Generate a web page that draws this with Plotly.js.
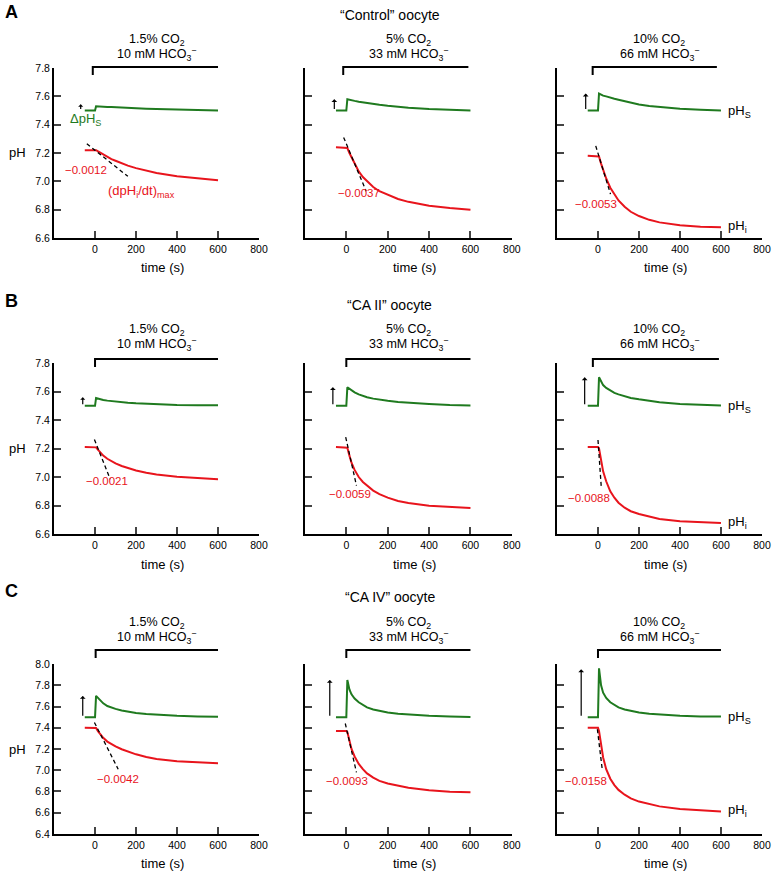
<!DOCTYPE html>
<html>
<head>
<meta charset="utf-8">
<script src="https://cdn.plot.ly/plotly-3.0.1.min.js"></script>
<style>
  html, body { margin: 0; padding: 0; background: #fff; }
  #chart { width: 772px; height: 872px; }
</style>
</head>
<body>
<div id="chart"></div>
<script>
// Sample times (s) shared by every trace
const timeGrid = [-50, 0, 5, 15, 25, 40, 60, 80, 100, 130, 160, 200, 250, 300, 400, 500, 600];

// Row / column labels
const panelLetters = ['A', 'B', 'C'];
const rowTitles = ['\u201CControl\u201D oocyte', '\u201CCA II\u201D oocyte', '\u201CCA IV\u201D oocyte'];
const co2Labels = ['1.5% CO<sub>2</sub>', '5% CO<sub>2</sub>', '10% CO<sub>2</sub>'];
const hco3Labels = ['10 mM HCO<sub>3</sub><sup>\u2212</sup>', '33 mM HCO<sub>3</sub><sup>\u2212</sup>', '66 mM HCO<sub>3</sub><sup>\u2212</sup>'];

// Surface pH (green), one array per CO2 level
const controlPHs = [
    [7.5, 7.5, 7.53, 7.53, 7.528, 7.527, 7.525, 7.524, 7.522, 7.52, 7.518, 7.515, 7.512, 7.51, 7.505, 7.502, 7.5],
    [7.5, 7.5, 7.58, 7.578, 7.573, 7.568, 7.562, 7.557, 7.553, 7.546, 7.54, 7.533, 7.525, 7.519, 7.51, 7.504, 7.5],
    [7.5, 7.5, 7.62, 7.612, 7.605, 7.6, 7.59, 7.583, 7.576, 7.565, 7.555, 7.543, 7.532, 7.524, 7.512, 7.505, 7.5]
];
const ca2PHs = [
    [7.5, 7.5, 7.555, 7.55, 7.546, 7.541, 7.536, 7.532, 7.529, 7.525, 7.521, 7.517, 7.513, 7.51, 7.506, 7.504, 7.503],
    [7.5, 7.5, 7.63, 7.62, 7.607, 7.594, 7.58, 7.568, 7.56, 7.55, 7.542, 7.535, 7.526, 7.52, 7.512, 7.505, 7.502],
    [7.5, 7.5, 7.7, 7.67, 7.645, 7.625, 7.605, 7.59, 7.58, 7.565, 7.555, 7.545, 7.533, 7.525, 7.513, 7.505, 7.502]
];
const ca4PHs = [
    [7.5, 7.5, 7.7, 7.68, 7.655, 7.63, 7.605, 7.59, 7.578, 7.563, 7.552, 7.54, 7.53, 7.522, 7.512, 7.506, 7.503],
    [7.5, 7.5, 7.85, 7.76, 7.715, 7.675, 7.64, 7.612, 7.592, 7.572, 7.558, 7.543, 7.531, 7.523, 7.512, 7.505, 7.502],
    [7.5, 7.5, 7.96, 7.8, 7.73, 7.68, 7.64, 7.612, 7.592, 7.572, 7.558, 7.543, 7.531, 7.523, 7.513, 7.507, 7.505]
];

// Intracellular pH (red)
const controlPHi = [
    [7.22, 7.22, 7.22, 7.211, 7.202, 7.187, 7.171, 7.157, 7.145, 7.127, 7.111, 7.093, 7.074, 7.059, 7.035, 7.019, 7.008],
    [7.24, 7.24, 7.235, 7.2, 7.17, 7.12, 7.07, 7.03, 7.0, 6.96, 6.93, 6.905, 6.875, 6.855, 6.828, 6.812, 6.8],
    [7.18, 7.18, 7.175, 7.125, 7.08, 7.02, 6.955, 6.905, 6.865, 6.82, 6.785, 6.755, 6.728, 6.71, 6.69, 6.68, 6.675]
];
const ca2PHi = [
    [7.21, 7.21, 7.208, 7.19, 7.172, 7.15, 7.128, 7.11, 7.095, 7.077, 7.062, 7.046, 7.03, 7.018, 7.002, 6.992, 6.985],
    [7.21, 7.21, 7.205, 7.15, 7.1, 7.05, 7.0, 6.965, 6.94, 6.905, 6.88, 6.855, 6.832, 6.817, 6.798, 6.788, 6.782],
    [7.21, 7.21, 7.2, 7.11, 7.04, 6.97, 6.9, 6.855, 6.82, 6.785, 6.76, 6.74, 6.72, 6.705, 6.69, 6.682, 6.678]
];
const ca4PHi = [
    [7.4, 7.4, 7.398, 7.365, 7.34, 7.305, 7.27, 7.245, 7.225, 7.198, 7.175, 7.15, 7.125, 7.105, 7.085, 7.072, 7.065],
    [7.37, 7.37, 7.36, 7.27, 7.2, 7.13, 7.06, 7.01, 6.97, 6.93, 6.9, 6.875, 6.852, 6.835, 6.812, 6.798, 6.792],
    [7.4, 7.4, 7.37, 7.22, 7.12, 7.01, 6.92, 6.86, 6.815, 6.77, 6.735, 6.705, 6.68, 6.66, 6.635, 6.62, 6.612]
];

// Max rate of pHi change, tangent line end points
const rateLabels = [
    ['\u22120.0012', '\u22120.0037', '\u22120.0053'],
    ['\u22120.0021', '\u22120.0059', '\u22120.0088'],
    ['\u22120.0042', '\u22120.0093', '\u22120.0158']
];
const rateX = [[-44, 59, -11], [56, 19, -42], [110, 3, -57]];
const rateY = [[7.08, 6.92, 6.84], [6.97, 6.88, 6.85], [6.915, 6.9, 6.9]];
const tangentX = [
    [[-40, 160], [-13, 96], [-11, 61]],
    [[-3, 74], [-3, 49], [0, 16]],
    [[-3, 113], [-5, 49], [-3, 20]]
];
const tangentY = [
    [[7.265, 7.035], [7.31, 6.93], [7.25, 6.91]],
    [[7.263, 6.985], [7.28, 6.94], [7.26, 6.93]],
    [[7.45, 7.01], [7.44, 6.98], [7.386, 7.02]]
];

// delta pHs arrows: x position and tip level; CO2 bracket start/end
const arrowX = [[-70, -58, -60], [-60, -65, -65], [-60, -80, -82]];
const arrowTop = [[7.545, 7.58, 7.62], [7.56, 7.63, 7.7], [7.7, 7.85, 7.95]];
const bracketStart = [[-11, -15, -26], [0, 0, -25], [3, 0, 0]];
const bracketEnd = [[600, 590, 580], [600, 600, 590], [600, 600, 600]];

const yRanges = [[6.6, 7.8], [6.6, 7.8], [6.4, 8.0]];
const yTicks = [
    [6.6, 6.8, 7.0, 7.2, 7.4, 7.6, 7.8],
    [6.6, 6.8, 7.0, 7.2, 7.4, 7.6, 7.8],
    [6.4, 6.6, 6.8, 7.0, 7.2, 7.4, 7.6, 7.8, 8.0]
];
const xTicks = [0, 200, 400, 600, 800];

const pHsRows = [controlPHs, ca2PHs, ca4PHs];
const pHiRows = [controlPHi, ca2PHi, ca4PHi];

// Geometry
const W = 772, H = 872;
const xDomains = [[0.070, 0.3355], [0.395, 0.663], [0.7215, 0.987]];
const yDomains = [[0.7271, 0.922], [0.3876, 0.5837], [0.0436, 0.2385]];
const bracketLift = [1, 4, 14];       // px above plot top
const co2Lift = [28, 33, 41];
const hco3Lift = [14, 19, 27];
const letterY = [12, 301, 591];

const FONT = 'Liberation Sans, Arial, Helvetica, sans-serif';
const GREEN = '#1f7a1f';
const RED = '#e8141c';

const traces = [];
const annotations = [];
const shapes = [];
const layout = {
    width: W,
    height: H,
    margin: { l: 0, r: 0, t: 0, b: 0 },
    paper_bgcolor: '#fff',
    plot_bgcolor: '#fff',
    showlegend: false,
    font: { family: FONT, color: '#000', size: 10 },
    annotations: annotations,
    shapes: shapes
};

for (let r = 0; r < 3; r++) {
    const hPx = (yDomains[r][1] - yDomains[r][0]) * H;

    // panel letter + row title (centred on the figure)
    annotations.push({
        xref: 'paper', yref: 'paper', x: 0.004, y: 1 - letterY[r] / H,
        xanchor: 'left', yanchor: 'middle', showarrow: false,
        text: '<b>' + panelLetters[r] + '</b>', font: { size: 18, family: FONT }
    });
    annotations.push({
        xref: 'paper', yref: 'paper', x: 0.505, y: 1 - (letterY[r] + [3, 4, 6][r]) / H,
        xanchor: 'center', yanchor: 'middle', showarrow: false,
        text: rowTitles[r], font: { size: 14, family: FONT }
    });

    for (let c = 0; c < 3; c++) {
        const k = r * 3 + c + 1;
        const xName = k === 1 ? 'x' : 'x' + k;
        const yName = k === 1 ? 'y' : 'y' + k;
        const yDom = yName + ' domain';

        layout[k === 1 ? 'xaxis' : 'xaxis' + k] = {
            domain: xDomains[c], anchor: yName, range: [-200, 800],
            tickvals: xTicks, ticks: 'inside', ticklen: 7, tickwidth: 2,
            showline: true, linewidth: 2, linecolor: '#000',
            showgrid: false, zeroline: false, fixedrange: true,
            tickfont: { size: 10.5, family: FONT }
        };
        layout[k === 1 ? 'yaxis' : 'yaxis' + k] = {
            domain: yDomains[r], anchor: xName, range: yRanges[r],
            tickvals: yTicks[r], tickformat: '.1f', ticks: 'inside', ticklen: 7, tickwidth: 2,
            showticklabels: c === 0, showline: true, linewidth: 2, linecolor: '#000',
            showgrid: false, zeroline: false, fixedrange: true,
            tickfont: { size: 10.5, family: FONT }
        };

        const greenY = pHsRows[r][c];
        const redY = pHiRows[r][c];

        traces.push({
            x: timeGrid, y: greenY, xaxis: xName, yaxis: yName,
            type: 'scatter', mode: 'lines', hoverinfo: 'skip',
            line: { color: GREEN, width: 2 }
        });
        traces.push({
            x: timeGrid, y: redY, xaxis: xName, yaxis: yName,
            type: 'scatter', mode: 'lines', hoverinfo: 'skip',
            line: { color: RED, width: 2 }
        });
        traces.push({
            x: tangentX[r][c], y: tangentY[r][c], xaxis: xName, yaxis: yName,
            type: 'scatter', mode: 'lines', hoverinfo: 'skip',
            line: { color: '#000', width: 1.3, dash: '4px,3px' }
        });

        // CO2 application bracket
        const yTop = 1 + bracketLift[r] / hPx;
        const yTick = yTop - 8 / hPx;
        shapes.push({
            type: 'path', xref: xName, yref: yDom,
            path: `M ${bracketStart[r][c]},${yTick} L ${bracketStart[r][c]},${yTop} L ${bracketEnd[r][c]},${yTop}`,
            line: { color: '#000', width: 2 }
        });

        // condition labels
        annotations.push({
            xref: xName, yref: yDom, x: 300, y: 1, yshift: co2Lift[r],
            showarrow: false, yanchor: 'middle', text: co2Labels[c], font: { size: 12.5, family: FONT }
        });
        annotations.push({
            xref: xName, yref: yDom, x: 300, y: 1, yshift: hco3Lift[r],
            showarrow: false, yanchor: 'middle', text: hco3Labels[c], font: { size: 12.5, family: FONT }
        });

        // delta pHs arrow
        const small = arrowTop[r][c] - greenY[0] < 0.07;
        annotations.push({
            xref: xName, yref: yName, axref: xName, ayref: yName,
            x: arrowX[r][c], y: arrowTop[r][c], ax: arrowX[r][c], ay: greenY[0],
            text: '', showarrow: true, arrowhead: 1, arrowsize: small ? 0.7 : 0.8, arrowwidth: 1.2,
            arrowcolor: '#000', standoff: 0, startstandoff: 0
        });

        // rate label
        annotations.push({
            xref: xName, yref: yName, x: rateX[r][c], y: rateY[r][c],
            showarrow: false, text: rateLabels[r][c], font: { size: 11.5, color: RED, family: FONT }
        });

        // axis titles
        annotations.push({
            xref: xName, yref: yDom, x: 330, y: 0, yshift: -30,
            showarrow: false, yanchor: 'middle', text: 'time (s)', font: { size: 13, family: FONT }
        });
        if (c === 0) {
            annotations.push({
                xref: xName + ' domain', yref: yDom, x: 0, xshift: -37, y: 0.5,
                showarrow: false, xanchor: 'center', yanchor: 'middle', text: 'pH', font: { size: 13, family: FONT }
            });
        }
        if (c === 2) {
            annotations.push({
                xref: xName, yref: yName, x: 625, y: greenY[greenY.length - 1] - 0.005,
                xanchor: 'left', showarrow: false, text: 'pH<sub>S</sub>', font: { size: 13, family: FONT }
            });
            annotations.push({
                xref: xName, yref: yName, x: 625, y: redY[redY.length - 1] + 0.005,
                xanchor: 'left', showarrow: false, text: 'pH<sub>i</sub>', font: { size: 13, family: FONT }
            });
        }
        if (r === 0 && c === 0) {
            annotations.push({
                xref: xName, yref: yName, x: -48, y: 7.44,
                showarrow: false, text: '\u0394pH<sub>S</sub>', font: { size: 13, color: GREEN, family: FONT }
            });
            annotations.push({
                xref: xName, yref: yName, x: 226, y: 6.93,
                showarrow: false, text: '(dpH<sub>i</sub>/dt)<sub>max</sub>', font: { size: 13, color: RED, family: FONT }
            });
        }
    }
}

Plotly.newPlot('chart', traces, layout, { staticPlot: true, displayModeBar: false });
</script>
</body>
</html>
